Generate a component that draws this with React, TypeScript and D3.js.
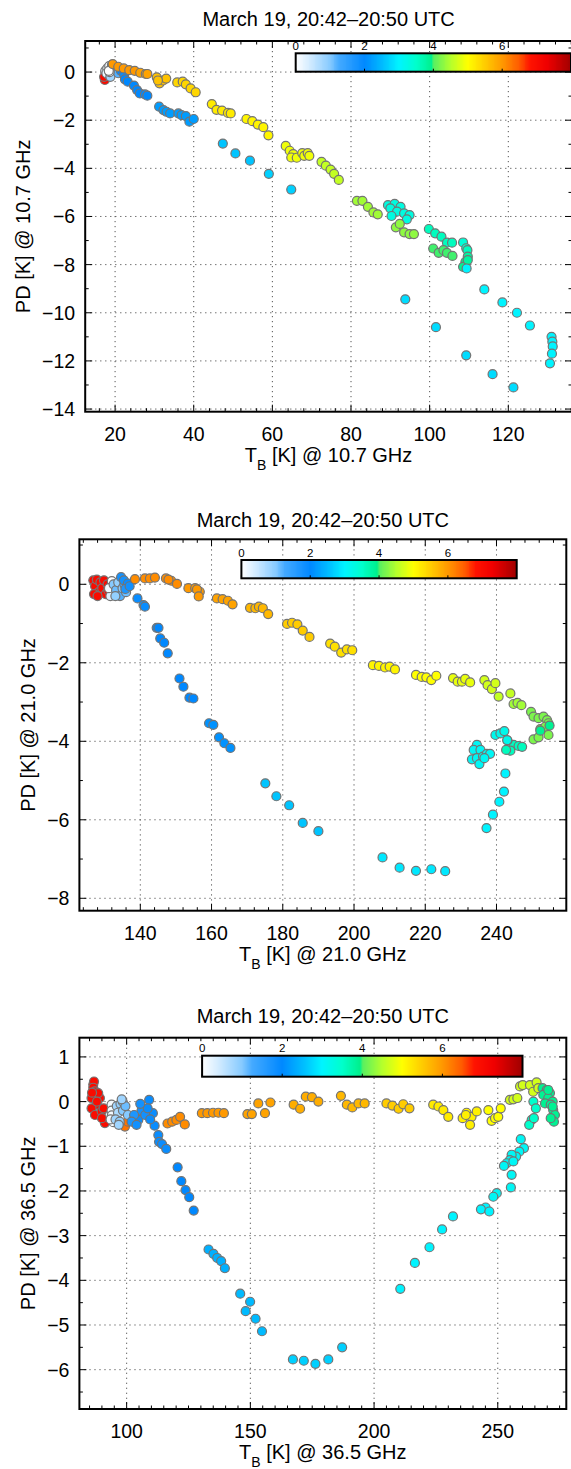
import React from 'react';
import * as d3 from 'd3';

const FONT = '"Liberation Sans", Arial, Helvetica, sans-serif';
const TITLE = 'March 19, 20:42\u201320:50 UTC';

// ---------- Panel 1: 10.7 GHz ----------
const TB10 = [
  17.4, 17.2,
  17.5, 18.0, 18.5, 19.0, 18.2, 19.5, 17.8, 18.8, 19.8, 20.3, 20.8, 19.2, 18.6, 18.4,
  21.5, 22.3,
  19.4, 20.8, 22.2, 23.6, 25.0, 26.4, 27.8, 28.2,
  22.5, 23.2, 24.8, 25.6, 26.3, 27.6, 28.2,
  30.6, 31.3, 32.2, 33.0, 30.9,
  35.8, 37.2, 38.0, 39.2, 40.5,
  31.2, 32.3, 33.1, 34.0, 36.1, 36.9, 38.0, 38.9, 40.0,
  44.6, 45.8, 47.2, 48.7, 49.4,
  53.4, 54.9, 56.3, 57.7, 59.0,
  47.4, 50.6, 54.3, 59.1, 64.8,
  63.4, 64.4, 65.3, 64.8, 66.2, 67.6, 68.1, 69.0, 69.4,
  72.5, 73.6, 74.8, 75.7, 76.9,
  81.5, 82.9, 84.3, 85.7, 86.8,
  89.4, 91.1, 92.6, 90.0, 91.7, 93.5, 94.9, 90.3, 94.2,
  91.4, 92.4, 93.5, 94.9, 96.0,
  99.8, 101.4, 103.0, 104.4, 105.7,
  100.9, 102.3, 103.5, 104.4, 105.8,
  108.5, 109.3, 109.6, 109.7, 109.1, 108.5, 109.7, 109.4,
  113.9, 118.5, 122.2, 125.5, 131.0, 131.2, 131.3, 131.1, 130.6,
  93.8, 101.6, 109.3, 116.0, 121.3,
];
const PD10 = [
  -0.33, -0.2,
  0.05, 0.15, 0.25, 0.1, -0.1, 0.0, -0.05, -0.2, 0.2, 0.1, -0.05, 0.3, 0.0, 0.05,
  0.05, -0.1,
  0.33, 0.22, 0.15, 0.08, 0.05, -0.03, -0.08, -0.08,
  -0.3, -0.4, -0.56, -0.75, -0.89, -0.93, -0.98,
  -0.22, -0.47, -0.35, -0.27, -0.35,
  -0.43, -0.4, -0.51, -0.68, -0.84,
  -1.44, -1.58, -1.65, -1.72, -1.72, -1.79, -1.83, -2.06, -1.95,
  -1.33, -1.57, -1.6, -1.7, -1.72,
  -1.95, -2.04, -2.18, -2.29, -2.63,
  -2.97, -3.38, -3.68, -4.23, -4.88,
  -3.07, -3.27, -3.41, -3.55, -3.56, -3.37, -3.48, -3.37, -3.48,
  -3.73, -3.89, -4.05, -4.23, -4.48,
  -5.35, -5.35, -5.6, -5.83, -5.91,
  -5.53, -5.48, -5.6, -5.66, -5.8, -5.87, -5.94, -5.98, -6.12,
  -6.45, -6.31, -6.66, -6.73, -6.73,
  -6.52, -6.7, -6.84, -7.09, -7.09,
  -7.33, -7.51, -7.4, -7.51, -7.64,
  -7.08, -7.32, -7.4, -7.67, -7.88, -8.09, -7.81, -8.16,
  -9.03, -9.57, -10.0, -10.53, -11.0, -11.2, -11.4, -11.7, -12.1,
  -9.44, -10.6, -11.77, -12.55, -13.1,
];
const C10 = [
  7.0, 7.0,
  0.3, 0.2, 0.1, 0.4, 0.5, 0.6, 0.2, 0.8, 0.7, 1.0, 1.2, 0.3, 0.0, 0.0,
  2.0, 1.9,
  6.0, 6.0, 6.0, 6.0, 6.0, 5.9, 5.9, 5.9,
  2.0, 2.0, 2.0, 2.0, 2.0, 2.0, 2.0,
  5.6, 5.6, 5.6, 5.6, 5.6,
  5.4, 5.4, 5.4, 5.4, 5.4,
  2.2, 2.2, 2.2, 2.2, 2.2, 2.2, 2.2, 2.2, 2.2,
  5.2, 5.2, 5.2, 5.2, 5.2,
  5.1, 5.1, 5.1, 5.1, 5.1,
  2.6, 2.6, 2.6, 2.7, 2.7,
  4.9, 4.9, 4.9, 4.9, 4.9, 4.9, 4.9, 4.9, 4.9,
  4.6, 4.6, 4.6, 4.6, 4.6,
  4.4, 4.4, 4.4, 4.4, 4.4,
  3.3, 3.3, 3.3, 3.3, 3.3, 3.3, 3.3, 3.3, 3.3,
  4.3, 4.3, 4.3, 4.3, 4.3,
  3.6, 3.6, 3.6, 3.6, 3.6,
  4.0, 4.0, 4.0, 4.0, 4.0,
  3.4, 3.5, 3.6, 3.8, 3.9, 3.9, 3.8, 3.0,
  3.0, 3.0, 3.0, 3.0, 3.0, 3.0, 3.0, 3.0, 3.0,
  2.8, 2.8, 2.8, 2.8, 2.8,
];

// ---------- Panel 2: 21.0 GHz ----------
const TB21 = [
  126.8, 127.3, 127.8, 128.3, 128.8, 129.3, 129.8, 130.3, 127.0, 130.8, 128.0, 131.0,
  132.0, 131.6, 131.2,
  132.5, 133.2, 133.8, 134.3, 135.0, 135.5, 136.0, 133.0,
  134.6, 135.4, 136.5, 135.8, 137.0,
  138.5, 141.3, 142.7, 144.1,
  139.2, 140.9, 141.3,
  147.2, 148.7, 150.3, 147.9,
  153.5, 155.4, 156.7, 155.9, 156.4,
  161.5, 163.1, 164.6, 165.9,
  170.8, 172.3, 173.3, 174.4, 175.9,
  181.2, 182.6, 184.1, 185.6, 187.5,
  193.3, 194.6, 196.4, 198.0, 199.5,
  205.3, 207.0, 208.7, 210.0, 211.5,
  217.4, 219.0, 220.3, 221.7, 223.1,
  227.8, 229.1, 230.3, 231.2, 232.6,
  236.6, 237.5, 238.7, 239.7,
  240.6, 243.9,
  244.8, 245.9, 247.0,
  249.7, 250.4, 251.8, 253.2, 254.2, 254.6, 252.3, 253.7, 254.6, 250.4, 251.8, 254.9, 252.3,
  244.8, 246.2, 247.2, 243.9, 242.7, 243.1,
  239.7, 241.1, 242.2, 243.0,
  234.5, 233.6, 235.5, 233.1, 234.5, 236.2, 237.3, 238.2, 235.2, 236.6,
  242.5, 242.1, 240.8, 239.0, 237.2,
  144.6, 145.1, 145.6, 146.7, 147.7, 151.0, 152.1, 153.8, 154.9, 159.3, 160.5, 162.1, 163.6, 165.3,
  175.1, 178.2, 181.8, 185.6, 190.0,
  208.0, 212.8, 217.4, 221.7, 225.6,
];
const PD21 = [
  0.10, -0.05, 0.12, -0.20, 0.05, -0.10, 0.10, -0.25, -0.25, 0.00, -0.30, -0.15,
  0.08, -0.30, -0.10,
  0.00, -0.15, 0.05, -0.30, -0.10, 0.00, -0.20, -0.30,
  0.18, 0.10, 0.02, -0.12, -0.05,
  0.13, 0.15, 0.15, 0.17,
  -0.36, -0.53, -0.57,
  0.15, 0.09, 0.01, 0.12,
  -0.10, -0.10, -0.19, -0.13, -0.31,
  -0.36, -0.38, -0.42, -0.51,
  -0.60, -0.61, -0.57, -0.61, -0.76,
  -1.01, -0.98, -1.02, -1.18, -1.34,
  -1.51, -1.59, -1.74, -1.66, -1.68,
  -2.06, -2.08, -2.12, -2.10, -2.17,
  -2.31, -2.36, -2.37, -2.44, -2.33,
  -2.39, -2.48, -2.48, -2.41, -2.50,
  -2.44, -2.57, -2.67, -2.52,
  -2.86, -2.78,
  -3.05, -3.02, -3.08,
  -3.25, -3.37, -3.41, -3.37, -3.46, -3.54, -3.69, -3.63, -3.84, -3.95, -3.90, -3.60, -3.73,
  -4.09, -4.12, -4.14, -4.24, -4.22, -3.98,
  -3.84, -3.80, -3.74, -3.97,
  -4.09, -4.22, -4.22, -4.46, -4.43, -4.39, -4.32, -4.32, -4.58, -4.43,
  -4.82, -5.28, -5.54, -5.87, -6.21,
  -1.11, -1.11, -1.38, -1.49, -1.76, -2.40, -2.61, -2.89, -2.91, -3.54, -3.58, -3.90, -4.05, -4.17,
  -5.07, -5.40, -5.63, -6.08, -6.29,
  -6.96, -7.22, -7.30, -7.26, -7.31,
];
const C21 = [
  7.0, 7.0, 7.0, 7.0, 7.0, 7.0, 7.0, 7.0, 7.0, 7.0, 7.0, 7.0,
  0.0, 0.3, 0.1,
  1.0, 1.1, 0.9, 1.2, 1.0, 1.3, 1.1, 0.9,
  1.8, 1.8, 1.9, 1.7, 1.8,
  6.1, 6.1, 6.1, 6.1,
  1.9, 1.9, 1.9,
  6.1, 6.1, 6.1, 6.1,
  6.0, 6.0, 6.0, 6.0, 6.0,
  5.9, 5.9, 5.9, 5.9,
  5.7, 5.7, 5.7, 5.7, 5.7,
  5.5, 5.5, 5.5, 5.5, 5.5,
  5.3, 5.3, 5.3, 5.3, 5.3,
  5.1, 5.1, 5.1, 5.1, 5.1,
  5.0, 5.0, 5.0, 5.0, 5.0,
  4.85, 4.85, 4.85, 4.85, 4.85,
  4.7, 4.7, 4.7, 4.7,
  4.6, 4.6,
  4.4, 4.4, 4.4,
  4.2, 4.2, 4.2, 4.2, 4.2, 4.2, 4.2, 4.2, 4.2, 4.2, 4.2, 3.9, 3.9,
  3.6, 3.6, 3.6, 3.6, 3.6, 3.6,
  3.2, 3.2, 3.2, 3.2,
  3.1, 3.1, 3.1, 3.1, 3.1, 3.1, 3.1, 3.1, 3.1, 3.1,
  3.0, 3.0, 3.0, 3.0, 3.0,
  2.0, 2.0, 2.0, 2.0, 2.0, 2.0, 2.0, 2.0, 2.0, 2.1, 2.1, 2.1, 2.1, 2.1,
  2.6, 2.6, 2.6, 2.6, 2.6,
  2.9, 2.9, 2.9, 2.9, 2.9,
];

// ---------- Panel 3: 36.5 GHz ----------
const TB36 = [
  86.5, 86.8, 86.5, 87.2, 85.8, 89.2, 88.5, 87.9, 85.8, 87.2, 89.9, 90.7, 91.2, 90.0, 86.0, 88.0,
  99.3, 100.5,
  93.9, 93.9, 94.0, 94.6, 93.5,
  96.0, 97.5, 96.5, 95.5, 97.2, 98.5, 96.8, 98.4, 99.5, 100.5, 98.0,
  109.1, 104.7, 110.6, 111.3, 106.0, 107.5, 108.5, 103.0, 105.5, 109.5, 102.0, 104.0,
  116.5, 118.4, 120.1, 121.6, 123.5,
  112.8, 113.1, 114.3, 116.0,
  120.6, 122.1, 123.8, 125.3, 127.1,
  130.4, 132.6, 134.9, 137.1, 139.3,
  148.8, 150.6, 153.2, 155.9, 158.1,
  167.5, 170.1, 172.4, 174.9, 177.5,
  186.6, 189.0, 191.2, 193.7, 196.2,
  205.0, 207.4, 209.9, 211.8, 214.3,
  223.9, 226.0, 228.0, 230.0,
  235.8, 237.4, 239.4, 241.5, 238.8, 237.1,
  246.2, 247.5, 248.9, 250.2, 251.2,
  254.9, 256.3, 257.9, 259.0, 260.1, 263.0, 265.7, 264.3, 266.4,
  264.4, 265.4, 263.7, 262.7, 264.6,
  268.1, 269.8, 271.1, 268.4, 270.4, 272.2, 269.1, 271.4, 272.4, 273.1, 272.7, 271.4, 272.2, 270.4,
  259.3, 260.6, 258.7, 257.4, 255.6, 254.9, 253.6, 252.5, 256.3, 255.6, 255.3, 249.6, 248.2,
  245.1, 243.2, 246.6, 231.9, 227.5, 222.4, 216.5, 210.6,
  133.1, 135.1, 136.6, 138.2, 139.7,
  145.9, 149.9, 148.1, 152.1, 154.7,
  167.2, 171.6, 176.3, 181.5, 187.1,
];
const PD36 = [
  0.38, 0.45, 0.31, 0.23, 0.08, 0.08, 0.19, -0.07, -0.15, -0.30, -0.22, -0.15, -0.48, -0.37, 0.20, 0.00,
  -0.56, -0.45,
  -0.07, -0.20, -0.31, -0.46, -0.40,
  -0.10, -0.05, -0.25, -0.40, -0.45, -0.20, -0.52, 0.00, -0.10, -0.30, 0.05,
  0.04, -0.41, -0.26, -0.54, -0.20, -0.30, -0.15, -0.30, -0.05, -0.40, -0.45, -0.52,
  -0.49, -0.45, -0.41, -0.34, -0.51,
  -0.75, -0.90, -0.95, -1.06,
  -1.47, -1.78, -1.98, -2.14, -2.44,
  -0.26, -0.26, -0.25, -0.25, -0.26,
  -0.28, -0.28, -0.04, -0.26, -0.02,
  -0.07, -0.16, 0.11, 0.10, 0.00,
  0.13, -0.07, -0.13, -0.04, -0.04,
  -0.04, -0.09, -0.16, -0.06, -0.15,
  -0.07, -0.11, -0.19, -0.34,
  -0.37, -0.25, -0.34, -0.22, -0.52, -0.30,
  -0.19, -0.43, -0.37, -0.34, -0.15,
  0.04, 0.05, 0.08, 0.34, 0.37, 0.37, 0.43, 0.22, 0.30,
  0.00, -0.15, -0.41, -0.52, -0.37,
  0.30, 0.26, 0.19, 0.15, 0.08, 0.00, -0.04, -0.07, -0.19, -0.30, -0.45, -0.37, -0.11, 0.26,
  -0.84, -1.04, -1.12, -1.23, -1.19, -1.31, -1.38, -1.44, -1.34, -1.64, -1.92, -2.05, -2.13,
  -2.37, -2.41, -2.46, -2.57, -2.86, -3.26, -3.61, -4.19,
  -3.31, -3.41, -3.50, -3.57, -3.73,
  -4.30, -4.48, -4.69, -4.86, -5.14,
  -5.77, -5.80, -5.87, -5.77, -5.50,
];
const C36 = [
  7.0, 7.0, 7.0, 7.0, 7.0, 7.0, 7.0, 7.0, 7.0, 7.0, 7.0, 7.0, 7.0, 7.0, 7.0, 7.0,
  6.3, 6.3,
  0.1, 0.1, 0.1, 0.1, 0.1,
  0.8, 0.9, 0.7, 0.8, 0.9, 1.0, 0.8, 0.9, 1.1, 1.0, 0.8,
  1.9, 1.9, 1.9, 1.9, 1.8, 1.8, 1.9, 1.7, 1.8, 1.9, 1.7, 1.8,
  6.1, 6.1, 6.1, 6.1, 6.1,
  1.9, 1.9, 1.9, 1.9,
  2.0, 2.0, 2.0, 2.0, 2.0,
  6.0, 6.0, 6.0, 6.0, 6.0,
  5.9, 5.9, 5.9, 5.9, 5.9,
  5.8, 5.8, 5.8, 5.8, 5.8,
  5.7, 5.7, 5.7, 5.7, 5.7,
  5.5, 5.5, 5.5, 5.5, 5.5,
  5.2, 5.2, 5.2, 5.2,
  5.15, 5.15, 5.15, 5.15, 5.15, 5.15,
  5.0, 5.0, 5.0, 5.0, 5.0,
  4.7, 4.7, 4.7, 4.7, 4.7, 4.7, 4.7, 4.7, 4.7,
  3.5, 3.5, 3.5, 3.5, 3.5,
  3.9, 3.9, 3.9, 3.9, 3.9, 3.9, 3.9, 3.9, 3.9, 3.9, 3.9, 3.9, 3.9, 3.9,
  3.1, 3.1, 3.1, 3.1, 3.1, 3.1, 3.1, 3.1, 3.1, 3.1, 3.1, 3.1, 3.1,
  3.0, 3.0, 3.0, 3.0, 3.0, 3.0, 3.0, 3.0,
  2.4, 2.4, 2.4, 2.4, 2.4,
  2.5, 2.5, 2.5, 2.5, 2.5,
  2.7, 2.7, 2.7, 2.7, 2.7,
];

// ---------- colour table ----------
const CMAP_STOPS = [0, 0.4, 1.0, 1.25, 2.0, 2.6, 3.0, 3.5, 3.95, 4.02, 4.5, 5.0, 5.5, 6.0, 6.5, 6.8, 7.3, 8.0];
const CMAP_COLORS = ['#ffffff', '#d4ecff', '#86caff', '#45aaff', '#0088ff', '#00c4ff', '#00f4ff', '#00ffcc', '#00f08c', '#5af060', '#b4ff2c', '#ffff00', '#ffcc00', '#ff9900', '#ff5a00', '#ff1400', '#f00000', '#a00000'];
const CBAR_TICKS = [0, 2, 4, 6];

const colorOf = d3.scaleLinear<string>().domain(CMAP_STOPS).range(CMAP_COLORS).interpolate(d3.interpolateRgb).clamp(true);

type Cfg = {
  freq: string;
  left: number; right: number; top: number; bottom: number;
  xDomain: [number, number]; yDomain: [number, number];
  xTicks: number[]; yTicks: number[];
  xMinorStep: number; yMinorStep: number;
  cbX: number; cbW: number; cbTop: number; cbH: number;
  titleY: number; ylabelX: number;
};

const PANELS: Cfg[] = [
  {
    freq: '10.7', left: 85.2, right: 572, top: 41, bottom: 411.7,
    xDomain: [12.4, 136.2], yDomain: [-14.11, 1.29],
    xTicks: [20, 40, 60, 80, 100, 120], yTicks: [-14, -12, -10, -8, -6, -4, -2, 0],
    xMinorStep: 4, yMinorStep: 1,
    cbX: 295.7, cbW: 275.3, cbTop: 53.3, cbH: 18.4, titleY: 26, ylabelX: 30,
  },
  {
    freq: '21.0', left: 79.4, right: 566.3, top: 539.3, bottom: 910.7,
    xDomain: [122.9, 259.6], yDomain: [-8.316, 1.146],
    xTicks: [140, 160, 180, 200, 220, 240], yTicks: [-8, -6, -4, -2, 0],
    xMinorStep: 4, yMinorStep: 1,
    cbX: 241.4, cbW: 275.3, cbTop: 560, cbH: 18.3, titleY: 526.5, ylabelX: 34.5,
  },
  {
    freq: '36.5', left: 79.4, right: 566.3, top: 1037.7, bottom: 1409,
    xDomain: [80.9, 277.7], yDomain: [-6.88, 1.43],
    xTicks: [100, 150, 200, 250], yTicks: [-6, -5, -4, -3, -2, -1, 0, 1],
    xMinorStep: 5, yMinorStep: 0.5,
    cbX: 202.1, cbW: 320.4, cbTop: 1055.7, cbH: 21, titleY: 1022.5, ylabelX: 34.5,
  },
];

function minorTicks(domain: [number, number], step: number, majors: number[]) {
  const start = Math.ceil(domain[0] / step) * step;
  return d3.range(start, domain[1] + 1e-9, step).filter(v => !majors.some(m => Math.abs(m - v) < 1e-6));
}

const fmt = d3.format('d');

function Panel({ cfg, tb, pd, cv }: { cfg: Cfg; tb: number[]; pd: number[]; cv: number[] }) {
  const x = d3.scaleLinear().domain(cfg.xDomain).range([cfg.left, cfg.right]);
  const y = d3.scaleLinear().domain(cfg.yDomain).range([cfg.bottom, cfg.top]);
  const xMinor = minorTicks(cfg.xDomain, cfg.xMinorStep, cfg.xTicks);
  const yMinor = minorTicks(cfg.yDomain, cfg.yMinorStep, cfg.yTicks);
  const cb = d3.scaleLinear().domain([0, 8]).range([cfg.cbX, cfg.cbX + cfg.cbW]);
  const slices = d3.range(0, 8, 8 / 320);
  const cx = (cfg.left + cfg.right) / 2;
  const cy = (cfg.top + cfg.bottom) / 2;
  const MAJ = 7, MIN = 3.5;
  const grid = { stroke: '#555', strokeWidth: 1, strokeDasharray: '1.2,3.8' };
  return (
    <g>
      <text x={cx} y={cfg.titleY} textAnchor="middle" fontSize={20} fontFamily={FONT}>{TITLE}</text>
      {cfg.xTicks.map(v => (
        <line key={'gx' + v} x1={x(v)} x2={x(v)} y1={cfg.top} y2={cfg.bottom} {...grid} />
      ))}
      {cfg.yTicks.map(v => (
        <line key={'gy' + v} x1={cfg.left} x2={cfg.right} y1={y(v)} y2={y(v)} {...grid} />
      ))}
      {tb.map((t, i) => (
        <circle key={'p' + i} cx={x(t)} cy={y(pd[i])} r={4.5} fill={colorOf(cv[i])} stroke="#747474" strokeWidth={1.2} />
      ))}
      {cfg.xTicks.map(v => (
        <g key={'tx' + v}>
          <line x1={x(v)} x2={x(v)} y1={cfg.bottom} y2={cfg.bottom - MAJ} stroke="#000" strokeWidth={1} />
          <line x1={x(v)} x2={x(v)} y1={cfg.top} y2={cfg.top + MAJ} stroke="#000" strokeWidth={1} />
          <text x={x(v)} y={cfg.bottom + 29} textAnchor="middle" fontSize={19.5} fontFamily={FONT}>{fmt(v)}</text>
        </g>
      ))}
      {xMinor.map(v => (
        <g key={'mx' + v}>
          <line x1={x(v)} x2={x(v)} y1={cfg.bottom} y2={cfg.bottom - MIN} stroke="#000" strokeWidth={1} />
          <line x1={x(v)} x2={x(v)} y1={cfg.top} y2={cfg.top + MIN} stroke="#000" strokeWidth={1} />
        </g>
      ))}
      {cfg.yTicks.map(v => (
        <g key={'ty' + v}>
          <line x1={cfg.left} x2={cfg.left + MAJ} y1={y(v)} y2={y(v)} stroke="#000" strokeWidth={1} />
          <line x1={cfg.right} x2={cfg.right - MAJ} y1={y(v)} y2={y(v)} stroke="#000" strokeWidth={1} />
          <text x={cfg.left - 10} y={y(v) + 7} textAnchor="end" fontSize={19.5} fontFamily={FONT}>{fmt(v)}</text>
        </g>
      ))}
      {yMinor.map(v => (
        <g key={'my' + v}>
          <line x1={cfg.left} x2={cfg.left + MIN} y1={y(v)} y2={y(v)} stroke="#000" strokeWidth={1} />
          <line x1={cfg.right} x2={cfg.right - MIN} y1={y(v)} y2={y(v)} stroke="#000" strokeWidth={1} />
        </g>
      ))}
      <rect x={cfg.left} y={cfg.top} width={cfg.right - cfg.left} height={cfg.bottom - cfg.top} fill="none" stroke="#000" strokeWidth={2} />
      <g shapeRendering="crispEdges">
        {slices.map((v, i) => (
          <rect key={'cb' + i} x={cb(v)} y={cfg.cbTop} width={cb(v + 8 / 320) - cb(v) + 0.5} height={cfg.cbH} fill={colorOf(v + 4 / 320)} />
        ))}
      </g>
      <rect x={cfg.cbX} y={cfg.cbTop} width={cfg.cbW} height={cfg.cbH} fill="none" stroke="#000" strokeWidth={2} />
      {CBAR_TICKS.map(v => (
        <g key={'ct' + v}>
          <line x1={cb(v)} x2={cb(v)} y1={cfg.cbTop + cfg.cbH} y2={cfg.cbTop + cfg.cbH - 3} stroke="#000" strokeWidth={1} />
          <text x={cb(v)} y={cfg.cbTop - 3.5} textAnchor="middle" fontSize={11.5} fontFamily={FONT}>{fmt(v)}</text>
        </g>
      ))}
      <text x={cx} y={cfg.bottom + 50} textAnchor="middle" fontSize={20} fontFamily={FONT}>
        T<tspan dy={8} fontSize={14}>B</tspan><tspan dy={-8}>{` [K] @ ${cfg.freq} GHz`}</tspan>
      </text>
      <text transform={`translate(${cfg.ylabelX},${cy}) rotate(-90)`} textAnchor="middle" fontSize={20} fontFamily={FONT}>
        {`PD [K] @ ${cfg.freq} GHz`}
      </text>
    </g>
  );
}

export default function App() {
  return (
    <svg width={571} height={1469} style={{ position: 'absolute', left: 0, top: 0, background: '#fff' }}>
      <rect x={0} y={0} width={571} height={1469} fill="#fff" />
      <Panel cfg={PANELS[0]} tb={TB10} pd={PD10} cv={C10} />
      <Panel cfg={PANELS[1]} tb={TB21} pd={PD21} cv={C21} />
      <Panel cfg={PANELS[2]} tb={TB36} pd={PD36} cv={C36} />
    </svg>
  );
}
